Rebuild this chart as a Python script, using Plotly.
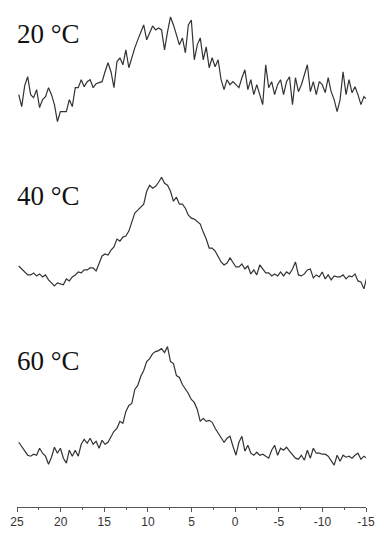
import numpy as np
import plotly.graph_objects as go

# sampling grid (x axis, reversed from 25 to -15)
x_vals = np.round(np.linspace(24.8, -15.1, 118), 3)

# intensities (arbitrary units), each relative to its own baseline
i_20C = [35,23,44,53,35,32,40,22,30,33,
         42,35,25,8,18,18,18,30,23,42,
         42,50,43,48,50,42,46,47,48,58,
         67,58,42,68,72,65,80,62,73,82,
         90,97,105,90,97,104,100,102,100,80,
         98,113,105,95,85,92,77,105,110,70,
         85,92,70,83,62,72,63,70,50,40,
         50,45,48,45,42,52,60,40,50,35,
         45,35,25,65,42,48,35,45,50,35,
         48,53,25,52,38,45,55,65,38,48,
         35,48,45,37,52,38,30,18,30,58,
         35,50,37,43,35,25,33,30]

i_40C = [33,30,28,24,24,26,23,25,22,24,
         19,16,13,16,15,14,20,18,22,24,
         27,26,29,29,31,31,28,35,43,45,
         44,49,52,60,58,62,63,68,76,86,
         89,92,95,108,114,111,113,117,122,116,
         114,108,98,102,95,95,91,84,81,80,
         77,75,67,60,51,51,48,43,37,34,
         36,41,37,32,32,35,30,33,25,29,
         24,34,30,26,26,23,25,23,27,23,
         27,25,30,37,24,23,25,29,30,21,
         24,22,27,20,24,19,23,22,22,24,
         20,23,22,25,18,17,10,22]

i_60C = [31,27,22,18,17,19,18,25,20,17,
         9,16,26,20,25,15,10,23,17,23,
         17,29,34,30,35,29,32,25,33,29,
         31,37,42,45,52,50,62,68,70,84,
         88,97,103,112,115,120,122,123,125,121,
         127,112,110,98,96,89,85,80,74,71,
         64,52,55,52,53,51,45,40,35,31,
         35,37,27,18,31,37,22,28,20,18,
         21,18,19,17,15,23,28,18,25,23,
         26,22,18,15,14,18,13,23,15,25,
         20,20,19,19,17,12,8,18,12,18,
         16,17,15,18,20,14,17,15]

labels = ["20 °C", "40 °C", "60 °C"]
series = [i_20C, i_40C, i_60C]
offsets = [379, 209, 34]
label_y = [475, 312, 147]

tick_vals = [25, 20, 15, 10, 5, 0, -5, -10, -15]
tick_text = ["25", "20", "15", "10", "5", "0", "-5", "-10", "-15"]

fig = go.Figure()
for s, off in zip(series, offsets):
    fig.add_trace(go.Scatter(
        x=x_vals, y=[v + off for v in s], mode="lines",
        line=dict(color="#333333", width=1.2), showlegend=False,
        hoverinfo="skip"))

for lab, ly in zip(labels, label_y):
    fig.add_annotation(
        text=lab, xref="paper", yref="y", x=-0.006, y=ly,
        xanchor="left", yanchor="middle", showarrow=False,
        font=dict(family="Liberation Serif, Times New Roman, serif", size=27, color="#111111"))

fig.update_layout(
    width=380, height=534,
    margin=dict(l=17, r=11, t=5, b=25),
    paper_bgcolor="white", plot_bgcolor="white",
    xaxis=dict(
        range=[25, -15], tickmode="array", tickvals=tick_vals, ticktext=tick_text,
        showline=True, linecolor="#555555", linewidth=1,
        ticks="outside", ticklen=4, tickcolor="#555555", tickwidth=1,
        showgrid=False, zeroline=False,
        tickfont=dict(family="Liberation Sans, Arial, sans-serif", size=12, color="#333333"),
        minor=dict(tickmode="linear", tick0=2.5, dtick=5, ticklen=2,
                   ticks="outside", tickcolor="#555555", showgrid=False),
    ),
    yaxis=dict(range=[0, 504], visible=False, showgrid=False, zeroline=False),
)

fig.write_html("out.html", config={"displayModeBar": False},
               post_script="document.body.style.margin='0';document.body.style.overflow='hidden';")
